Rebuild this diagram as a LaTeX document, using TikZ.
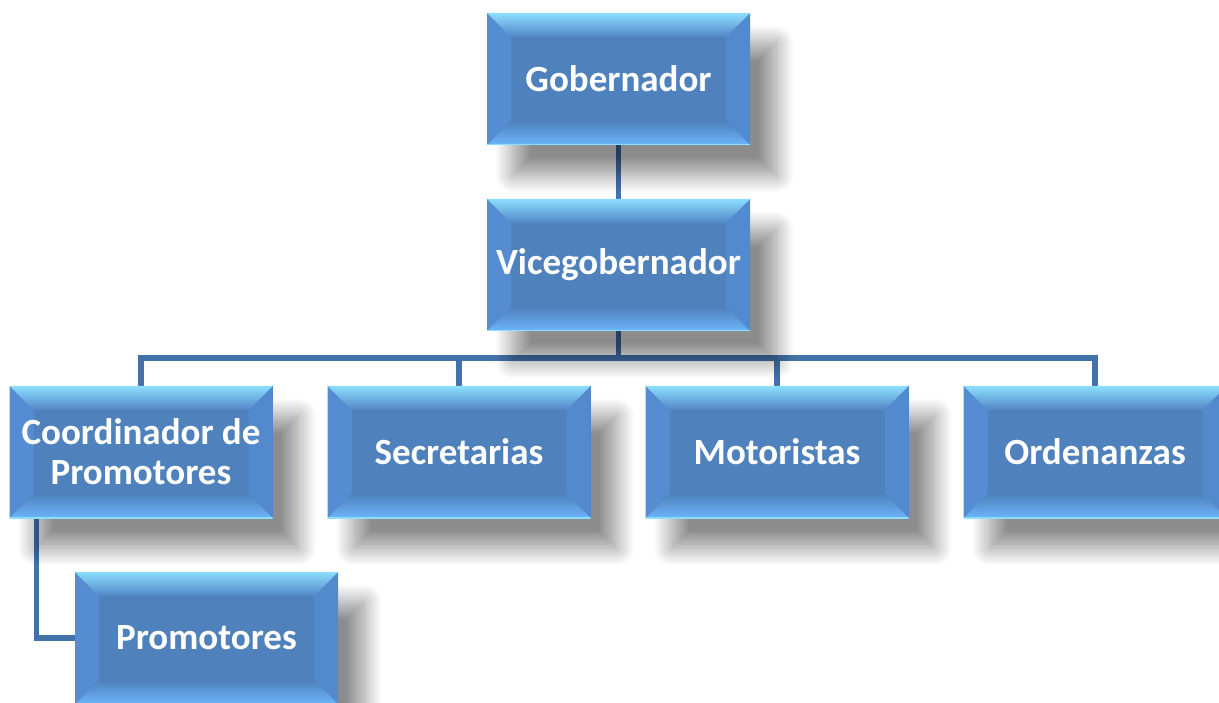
\documentclass[tikz,border=0pt]{standalone}
\usepackage{fontspec}
\setmainfont{Carlito}
\usetikzlibrary{calc,positioning,shadows.blur,backgrounds}
\definecolor{boxblue}{RGB}{79,129,189}
\definecolor{bevhigh}{RGB}{140,222,255}
\definecolor{bevmid}{RGB}{100,163,234}
\definecolor{bevin}{RGB}{82,134,198}
\definecolor{bevleft}{RGB}{86,141,210}
\definecolor{bevright}{RGB}{83,138,206}
\definecolor{bevlow}{RGB}{108,180,250}
\definecolor{linkblue}{RGB}{66,114,170}

\tikzset{
  bevelbox/.style={minimum width=263, minimum height=132, inner sep=0pt,
    fill=boxblue, text=white, align=center,
    font=\fontsize{37}{40}\selectfont\bfseries,
    blur shadow={shadow xshift=26pt, shadow yshift=-30pt, shadow blur radius=18pt,
      shadow blur steps=24, shadow opacity=45},
    path picture={
      \coordinate (bnw) at (path picture bounding box.north west);
      \coordinate (bne) at (path picture bounding box.north east);
      \coordinate (bsw) at (path picture bounding box.south west);
      \coordinate (bse) at (path picture bounding box.south east);
      \fill[bevleft] (bnw) -- ([shift={(24pt,-24pt)}]bnw) -- ([shift={(24pt,24pt)}]bsw) -- (bsw) -- cycle;
      \fill[bevright] (bne) -- ([shift={(-24pt,-24pt)}]bne) -- ([shift={(-24pt,24pt)}]bse) -- (bse) -- cycle;
      \shade[top color=bevhigh, middle color=bevmid, bottom color=bevin] (bnw) -- (bne) -- ([shift={(-24pt,-24pt)}]bne) -- ([shift={(24pt,-24pt)}]bnw) -- cycle;
      \shade[top color=boxblue, bottom color=bevlow] (bsw) -- (bse) -- ([shift={(-24pt,24pt)}]bse) -- ([shift={(24pt,24pt)}]bsw) -- cycle;
      \draw[bevhigh, line width=1.5pt] (bsw) -- (bse);
    }},
  link/.style={draw=linkblue, line width=5.5pt}
}

\begin{document}
\begin{tikzpicture}[x=1pt,y=-1pt]
\useasboundingbox (0,0) rectangle (1219,703);
% chain of command
\node[bevelbox] (gob) at (618.5,79) {Gobernador};
\node[bevelbox] (vice) at (618.5,265) {Vicegobernador};
% staff row
\node[bevelbox] (coord) at (141,452) {Coordinador de\\Promotores};
\node[bevelbox] (secre) at (459,452) {Secretarias};
\node[bevelbox] (motor) at (777,452) {Motoristas};
\node[bevelbox] (orden) at (1095,452) {Ordenanzas};
\node[bevelbox] (promo) at (206.5,638) {Promotores};
\coordinate (bus) at (0,358);
\begin{scope}[on background layer]
\draw[link] (gob.south) -- (vice.north);
\draw[link] (vice.south) -- (vice.south |- bus);
\draw[link] (coord.north) -- (coord.north |- bus) -- (orden.north |- bus) -- (orden.north);
\foreach \n in {secre,motor}
  \draw[link] (\n.north) -- (\n.north |- bus);
\draw[link] ([xshift=27pt]coord.south west) |- (promo.west);
\end{scope}
\end{tikzpicture}
\end{document}
